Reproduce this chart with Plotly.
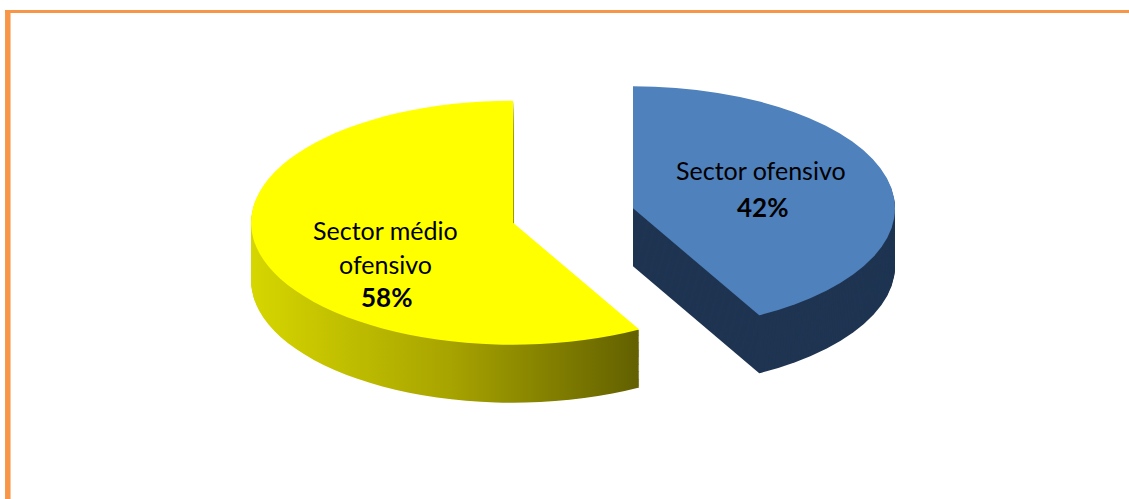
import plotly.graph_objects as go

# ---------------- data ----------------
labels = ["Sector ofensivo", "Sector médio ofensivo"]
label_lines = [["Sector ofensivo"], ["Sector médio", "ofensivo"]]
values = [42, 58]
top_colors = ["#4F81BD", "#FFFF00"]
side_colors = ["#1F3552", "#B0AC00"]
pulls = [0.2526, 0.22]

# ---------------- geometry (pseudo 3D) ----------------
W, H = 1129, 499
r_pre = 158            # pie radius before the perspective squash
rx_screen, ry_screen = 262, 122
depth_screen = 58
center_screen = (568.9, 216.0)
n_layers = 60

max_pull = max(pulls)
box = 2 * r_pre * (1 + max_pull)
dh = box / H
sx = rx_screen / r_pre
sy = ry_screen / r_pre
depth_pre = depth_screen / sy
shift = depth_pre / H
y1_top = 0.994
y0_top = y1_top - dh
dom_x = [0.2, 0.8]
cx_pre = W * 0.5
cy_pre = H * (1 - y0_top) - box / 2
tx = center_screen[0] - sx * cx_pre
ty = center_screen[1] - sy * cy_pre

fig = go.Figure()
for i in range(n_layers, 0, -1):
    s = shift * i / n_layers
    fig.add_trace(go.Pie(
        labels=labels, values=values, sort=False, direction="clockwise",
        rotation=0, pull=pulls,
        marker=dict(colors=side_colors, line=dict(width=0)),
        textinfo="none", hoverinfo="skip", showlegend=False,
        domain=dict(x=dom_x, y=[y0_top - s, y1_top - s]),
    ))
fig.add_trace(go.Pie(
    labels=labels, values=values, sort=False, direction="clockwise",
    rotation=0, pull=pulls,
    marker=dict(colors=top_colors, line=dict(width=0)),
    textinfo="none", hoverinfo="skip", showlegend=False,
    domain=dict(x=dom_x, y=[y0_top, y1_top]),
))

# ---------------- labels ----------------
def px(x, y):
    return x / W, 1 - y / H

total = sum(values)
pct = ["%d%%" % round(v * 100 / total) for v in values]
label_pos = [  # (x center, y of each text line, y of percentage)
    (761, [169.5], 206.5),
    (385, [230, 263.5], 296.5),
]
annotations = []
for k in range(len(labels)):
    xc, ys, yp = label_pos[k]
    for line, yy in zip(label_lines[k], ys):
        xa, ya = px(xc, yy)
        annotations.append(dict(x=xa, y=ya, xref="paper", yref="paper", text=line,
                                showarrow=False, xanchor="center", yanchor="middle",
                                font=dict(family="Lato, Calibri, sans-serif", size=25, color="#000000")))
    xa, ya = px(xc + 1, yp)
    annotations.append(dict(x=xa, y=ya, xref="paper", yref="paper", text="<b>%s</b>" % pct[k],
                            showarrow=False, xanchor="center", yanchor="middle",
                            font=dict(family="Lato, Calibri, sans-serif", size=26, color="#000000")))

# ---------------- border ----------------
orange = "#F79646"
shapes = [
    dict(type="line", xref="paper", yref="paper",
         x0=5 / W, x1=1.01, y0=1 - 11.5 / H, y1=1 - 11.5 / H,
         line=dict(color=orange, width=3.2)),
    dict(type="line", xref="paper", yref="paper",
         x0=7.8 / W, x1=7.8 / W, y0=1 - 10 / H, y1=-0.02,
         line=dict(color=orange, width=5.5)),
]

fig.update_layout(
    width=W, height=H, margin=dict(l=0, r=0, t=0, b=0, pad=0),
    paper_bgcolor="#FFFFFF", plot_bgcolor="#FFFFFF",
    showlegend=False, annotations=annotations, shapes=shapes,
)

post = """
document.body.style.margin = '0';
document.body.style.overflow = 'hidden';
var gd = document.getElementById('{plot_id}');
var layer = gd ? gd.querySelector('.pielayer') : null;
if (layer) {
  layer.setAttribute('transform', 'translate(TX,TY) scale(SX,SY)');
  var ns = 'http://www.w3.org/2000/svg';
  var svg = gd.querySelector('svg.main-svg');
  var defs = svg.querySelector('defs');
  if (!defs) { defs = document.createElementNS(ns, 'defs'); svg.insertBefore(defs, svg.firstChild); }
  var lg = document.createElementNS(ns, 'linearGradient');
  lg.setAttribute('id', 'ysidegrad');
  lg.setAttribute('x1', '0'); lg.setAttribute('y1', '0');
  lg.setAttribute('x2', '1'); lg.setAttribute('y2', '0');
  [['0', '#D6D600'], ['0.5', '#A9A500'], ['1', '#626000']].forEach(function (s) {
    var st = document.createElementNS(ns, 'stop');
    st.setAttribute('offset', s[0]); st.setAttribute('stop-color', s[1]);
    lg.appendChild(st);
  });
  defs.appendChild(lg);
  var traces = layer.querySelectorAll('g.trace');
  for (var i = 0; i < traces.length - 1; i++) {
    var sl = traces[i].querySelectorAll('g.slice');
    if (sl.length > 1) {
      var p = sl[1].querySelector('path.surface');
      if (p) { p.style.fill = 'url(#ysidegrad)'; }
    }
  }
}
"""
post = (post.replace("TX", "%.3f" % tx).replace("TY", "%.3f" % ty)
        .replace("SX", "%.5f" % sx).replace("SY", "%.5f" % sy))

fig.write_html("out.html", post_script=post, config={"responsive": False, "displayModeBar": False})
